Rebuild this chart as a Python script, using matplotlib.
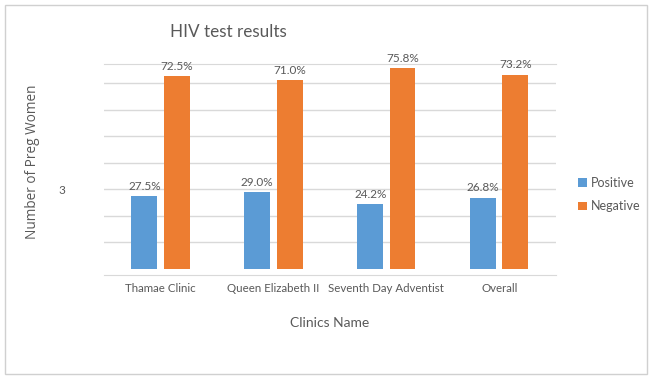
import matplotlib.pyplot as plt
import numpy as np
from matplotlib.patches import Rectangle

clinics = ["Thamae Clinic", "Queen Elizabeth II", "Seventh Day Adventist", "Overall"]
positive = [27.5, 29.0, 24.2, 26.8]
negative = [72.5, 71.0, 75.8, 73.2]
series_names = ["Positive", "Negative"]
ytick_pos = [30]
ytick_labels = ["3"]

blue = "#5B9BD5"
orange = "#ED7D31"
txt = "#595959"
grid = "#D9D9D9"

plt.rcParams['font.family'] = ['Lato', 'DejaVu Sans']

fig = plt.figure(figsize=(6.5, 3.78), dpi=100)
fig.patches.append(Rectangle((0.008, 0.01), 0.988, 0.978, transform=fig.transFigure,
                             fill=False, edgecolor="#D0D0D0", linewidth=1))
ax = fig.add_axes([0.16, 0.2725, 0.695, 0.5595])

x = np.arange(len(clinics))
w = 0.23
b1 = ax.bar(x - 0.143, positive, w, color=blue, label=series_names[0], zorder=3)
b2 = ax.bar(x + 0.143, negative, w, color=orange, label=series_names[1], zorder=3)

for bars, vals in [(b1, positive), (b2, negative)]:
    for r, v in zip(bars, vals):
        ax.annotate(f"{v:.1f}%", (r.get_x() + r.get_width() / 2, v),
                    xytext=(0, 7), textcoords="offset points",
                    ha="center", va="center", fontsize=8.5, color=txt)

ax.set_xlim(-0.5, 3.5)
ax.set_ylim(-2.4, 77.4)
for g in range(10, 80, 10):
    ax.axhline(g, color=grid, linewidth=1, zorder=1)

for s in ["left", "right"]:
    ax.spines[s].set_visible(False)
ax.spines["top"].set_color(grid)
ax.spines["bottom"].set_color(grid)

ax.set_xticks(x)
ax.set_xticklabels(clinics, fontsize=8.3, color=txt)
ax.set_yticks(ytick_pos)
ax.set_yticklabels(ytick_labels, fontsize=8.5, color=txt)
ax.tick_params(axis="x", length=0, pad=6)
ax.tick_params(axis="y", length=0, pad=28)

ax.set_title("HIV test results", fontsize=12.3, color=txt, x=0.275, y=1.0, pad=19)
ax.set_xlabel("Clinics Name", fontsize=10, color=txt, labelpad=16)
ax.set_ylabel("Number of Preg Women", fontsize=9.8, color=txt,
              family=['Open Sans', 'DejaVu Sans'])
ax.yaxis.set_label_coords(-0.142, 0.535)

ax.legend(loc="center left", bbox_to_anchor=(1.025, 0.38), frameon=False,
          fontsize=9, labelcolor=txt, handlelength=0.7, handleheight=0.7,
          handletextpad=0.3, labelspacing=0.9)

fig.savefig("out.png", dpi=100)
